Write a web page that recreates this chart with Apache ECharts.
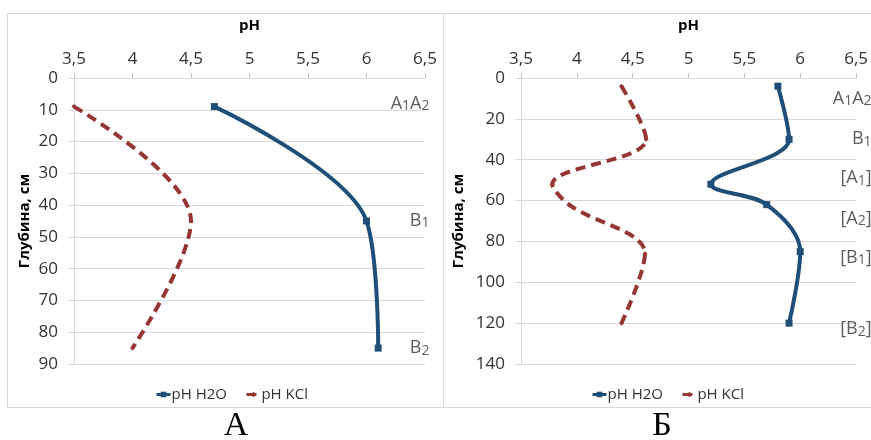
<!DOCTYPE html>
<html>
<head>
<meta charset="utf-8">
<script src="https://cdn.jsdelivr.net/npm/echarts@6/dist/echarts.min.js"></script>
<style>html,body{margin:0;padding:0;background:#fff}#c{width:871px;height:440px}</style>
</head>
<body>
<div id="c"></div>
<script>
// ---- data ----
const seriesNames = ['pH H2O', 'pH KCl'];
// chart А: [pH, depth cm]
const aH2O = [[4.7, 9], [6.0, 45], [6.1, 85]];
const aKCl = [[3.5, 9], [4.5, 45], [4.0, 85]];
// chart Б
const bH2O = [[5.8, 4], [5.9, 30], [5.2, 52], [5.7, 62], [6.0, 85], [5.9, 120]];
const bKCl = [[4.4, 4], [4.62, 30], [3.78, 52], [3.93, 62], [4.61, 86], [4.4, 120]];
// horizon labels
const aHorizonNames = ['A1A2', 'B1', 'B2'];
const aHorizonDepths = [8, 45, 85];
const bHorizonNames = ['A1A2', 'B1', '[A1]', '[A2]', '[B1]', '[B2]'];
const bHorizonDepths = [10, 30, 49, 69, 88, 123];
const phMin = 3.5, phMax = 6.5, phStep = 0.5;
const aDepthMax = 90, aDepthStep = 10;
const bDepthMax = 140, bDepthStep = 20;
const captions = ['А', 'Б'];

const font = '"Open Sans", sans-serif';
const blue = '#1f4e79';
const red = '#963634';
const grid = '#d9d9d9';
const txt = '#333333';

function xAx(i) {
  return {
    type: 'value', gridIndex: i, position: 'top',
    min: phMin, max: phMax, interval: phStep,
    name: 'pH', nameLocation: 'middle', nameGap: 45,
    nameTextStyle: { fontFamily: font, fontWeight: 'bold', fontSize: 15, color: '#000' },
    axisLine: { show: true, lineStyle: { color: grid } },
    axisTick: { show: true, length: 5, lineStyle: { color: '#bfbfbf' } },
    axisLabel: { margin: 10, fontFamily: font, fontSize: 17, color: txt,
      formatter: v => String(v).replace('.', ',') },
    splitLine: { show: false }
  };
}
function yAx(i, max, step, gap) {
  return {
    type: 'value', gridIndex: i, inverse: true, min: 0, max: max, interval: step,
    name: 'Глубина, см', nameLocation: 'middle', nameGap: gap, nameRotate: 90,
    nameTextStyle: { fontFamily: font, fontWeight: 'bold', fontSize: 15, color: '#000' },
    axisLine: { show: true, lineStyle: { color: grid } },
    axisTick: { show: true, length: 6, lineStyle: { color: grid } },
    axisLabel: { margin: 16, fontFamily: font, fontSize: 17, color: txt },
    splitLine: { show: true, lineStyle: { color: grid } }
  };
}
function lineSeries(name, data, i, color, dashed) {
  return {
    type: 'line', name: name, data: data, xAxisIndex: i, yAxisIndex: i,
    smooth: 0.35, symbol: dashed ? 'diamond' : 'rect', symbolSize: dashed ? 5 : 7,
    showAllSymbol: true,
    itemStyle: { color: color },
    lineStyle: { color: color, width: 4, type: dashed ? [10, 6] : 'solid' }
  };
}
function labelSeries(names, depths, i, off) {
  return {
    type: 'scatter', name: 'horizons' + i, xAxisIndex: i, yAxisIndex: i,
    symbolSize: 1, itemStyle: { color: 'rgba(0,0,0,0)' }, silent: true,
    data: names.map((n, k) => ({ value: [phMax, depths[k]], name: n })),
    label: {
      show: true, position: 'left', distance: -off, align: 'right',
      fontFamily: font, fontSize: 18, color: txt,
      formatter: p => p.name.replace(/(\d)/g, '{s|$1}'),
      rich: { s: { fontFamily: font, fontSize: 14, color: txt, padding: [5, 0, 0, 0] } }
    }
  };
}
function legend(left) {
  return {
    left: left, top: 382, data: seriesNames, itemWidth: 14, itemHeight: 7, itemGap: 18,
    lineStyle: { width: 3 },
    textStyle: { fontFamily: font, fontSize: 15, color: txt, padding: [0, 0, 0, -4] }
  };
}

const chart = echarts.init(document.getElementById('c'), null, { renderer: 'canvas' });
chart.setOption({
  backgroundColor: '#fff',
  animation: false,
  grid: [
    { left: 74, top: 78, width: 351, height: 286 },
    { left: 521, top: 78, width: 341, height: 286 }
  ],
  xAxis: [xAx(0), xAx(1)],
  yAxis: [yAx(0, aDepthMax, aDepthStep, 42), yAx(1, bDepthMax, bDepthStep, 55)],
  legend: [legend(150), legend(586)],
  series: [
    lineSeries(seriesNames[0], aH2O, 0, blue, false),
    lineSeries(seriesNames[1], aKCl, 0, red, true),
    lineSeries(seriesNames[0], bH2O, 1, blue, false),
    lineSeries(seriesNames[1], bKCl, 1, red, true),
    labelSeries(aHorizonNames, aHorizonDepths, 0, 5),
    labelSeries(bHorizonNames, bHorizonDepths, 1, 16)
  ],
  graphic: [
    { type: 'rect', silent: true, shape: { x: 7.5, y: 13.5, width: 436, height: 394 },
      style: { fill: 'none', stroke: grid, lineWidth: 1 } },
    { type: 'rect', silent: true, shape: { x: 443.5, y: 13.5, width: 440, height: 394 },
      style: { fill: 'none', stroke: grid, lineWidth: 1 } },
    { type: 'text', x: 236, y: 426, style: { text: captions[0], align: 'center', verticalAlign: 'middle',
      font: '34px "Liberation Serif", serif', fill: '#000' } },
    { type: 'text', x: 662, y: 426, style: { text: captions[1], align: 'center', verticalAlign: 'middle',
      font: '34px "Liberation Serif", serif', fill: '#000' } }
  ]
});
</script>
</body>
</html>
